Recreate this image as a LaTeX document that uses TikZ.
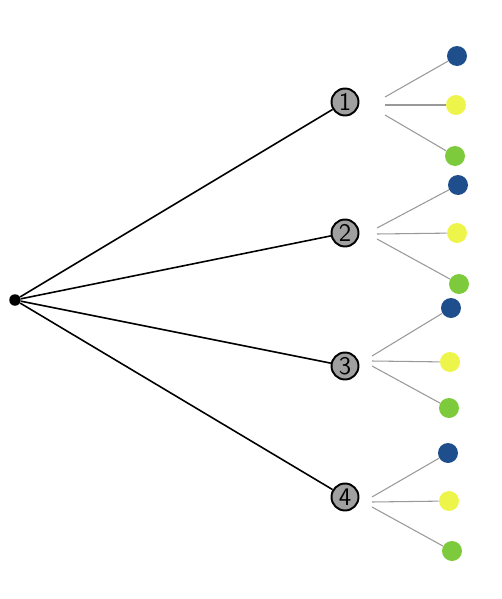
\documentclass[tikz,border=0pt]{standalone}
\usepackage{amssymb}
\usepackage{amsmath}
\usepackage{tikz}

\definecolor{leafblue}{HTML}{1F4E8C}
\definecolor{leafyellow}{HTML}{EEF54A}
\definecolor{leafgreen}{HTML}{7DCB3C}
\definecolor{choicegray}{HTML}{A0A0A0}

\tikzset{
    choice/.style={circle, draw=black, line width=1.1pt, fill=choicegray, minimum size=0.54cm, inner sep=0pt, font=\sffamily\Large},
    leaf/.style={circle, fill=#1, minimum size=0.4cm, inner sep=0pt},
    branch/.style={line width=0.9pt, black},
    twig/.style={line width=0.6pt, gray!80}
}

\begin{document}
\begin{tikzpicture}[x=0.02cm, y=-0.02cm]
    \useasboundingbox (0,0) rectangle (502,599);

    \node[circle, fill=black, minimum size=0.23cm, inner sep=0pt] (R) at (15,300) {};

    \node[choice] (C1) at (345,102) {1};
    \node[choice] (C2) at (345,233) {2};
    \node[choice] (C3) at (345,366) {3};
    \node[choice] (C4) at (345,497) {4};

    \draw[branch] (R) -- (C1);
    \draw[branch] (R) -- (C2);
    \draw[branch] (R) -- (C3);
    \draw[branch] (R) -- (C4);

    % outcomes of 1
    \coordinate (S1a) at (385,97);
    \coordinate (S1b) at (385,105);
    \coordinate (S1c) at (385,115);
    \node[leaf=leafblue] (L1a) at (457,56) {};
    \node[leaf=leafyellow] (L1b) at (456,105) {};
    \node[leaf=leafgreen] (L1c) at (455,156) {};
    \draw[twig] (S1a) -- (L1a);
    \draw[twig] (S1b) -- (L1b);
    \draw[twig] (S1c) -- (L1c);

    % outcomes of 2
    \coordinate (S2a) at (377,228);
    \coordinate (S2b) at (377,234);
    \coordinate (S2c) at (377,239);
    \node[leaf=leafblue] (L2a) at (458,185) {};
    \node[leaf=leafyellow] (L2b) at (457,233) {};
    \node[leaf=leafgreen] (L2c) at (459,284) {};
    \draw[twig] (S2a) -- (L2a);
    \draw[twig] (S2b) -- (L2b);
    \draw[twig] (S2c) -- (L2c);

    % outcomes of 3
    \coordinate (S3a) at (372,356);
    \coordinate (S3b) at (372,361);
    \coordinate (S3c) at (372,366);
    \node[leaf=leafblue] (L3a) at (451,308) {};
    \node[leaf=leafyellow] (L3b) at (450,362) {};
    \node[leaf=leafgreen] (L3c) at (449,408) {};
    \draw[twig] (S3a) -- (L3a);
    \draw[twig] (S3b) -- (L3b);
    \draw[twig] (S3c) -- (L3c);

    % outcomes of 4
    \coordinate (S4a) at (372,497);
    \coordinate (S4b) at (372,502);
    \coordinate (S4c) at (372,507);
    \node[leaf=leafblue] (L4a) at (448,453) {};
    \node[leaf=leafyellow] (L4b) at (449,501) {};
    \node[leaf=leafgreen] (L4c) at (452,551) {};
    \draw[twig] (S4a) -- (L4a);
    \draw[twig] (S4b) -- (L4b);
    \draw[twig] (S4c) -- (L4c);
\end{tikzpicture}
\end{document}
